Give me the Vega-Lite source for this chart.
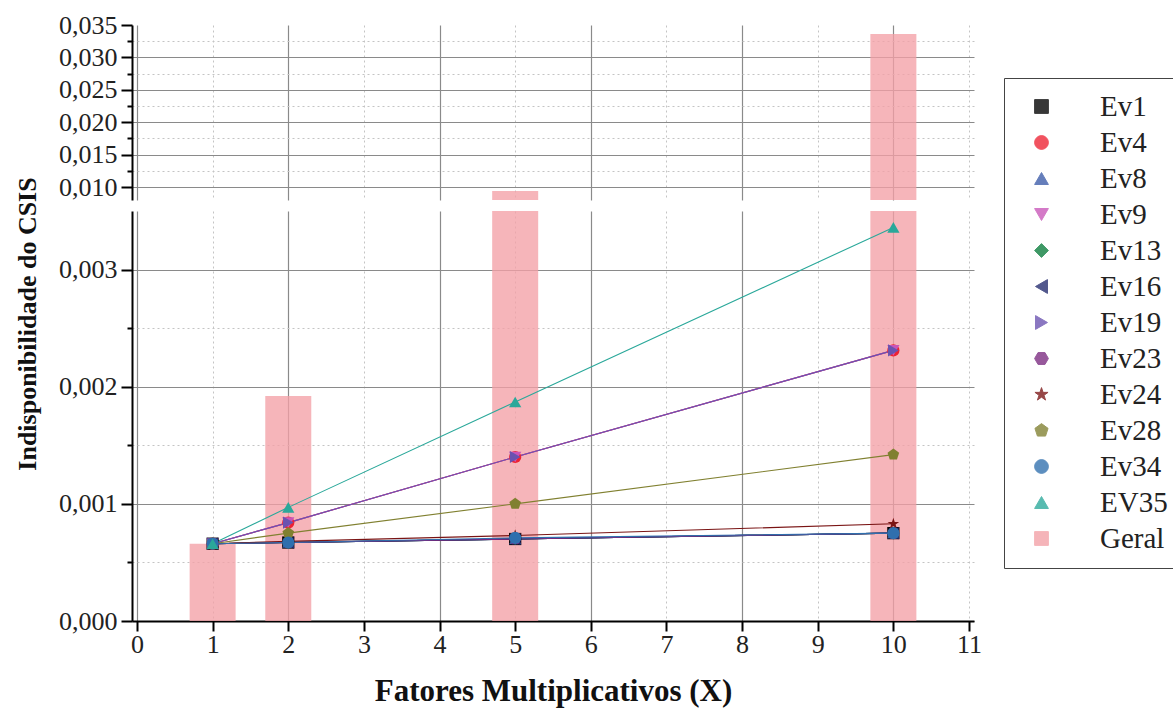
{
  "$schema": "https://vega.github.io/schema/vega-lite/v6.json",
  "padding": {"left": 14, "top": 12, "right": 0, "bottom": 5},
  "background": "white",
  "title": {"text": "Indisponibilidade do CSIS", "orient": "left", "anchor": "middle", "font": "Liberation Serif", "fontSize": 26, "fontWeight": "bold", "color": "#111111", "offset": 18, "dx": 35},
  "config": {
    "view": {"stroke": null},
    "font": "Liberation Serif",
    "style": {
      "guide-label": {"font": "Liberation Serif", "fontSize": 26, "fill": "#222222"},
      "guide-title": {"font": "Liberation Serif", "fontSize": 31, "fontWeight": "bold", "fill": "#111111"}
    },
    "axis": {"labelFont": "Liberation Serif", "labelFontSize": 26, "labelColor": "#222222", "titleFont": "Liberation Serif", "titleFontSize": 31, "titleFontWeight": "bold", "titleColor": "#111111", "domainColor": "#000000", "domainWidth": 2, "tickColor": "#000000", "tickWidth": 2},
    "legend": {"labelFont": "Liberation Serif", "labelFontSize": 29, "labelColor": "#222222"}
  },
  "datasets": {
    "series": [
      {"serie": "Ev1", "x": 1, "y": 0.00066}, {"serie": "Ev1", "x": 2, "y": 0.00067}, {"serie": "Ev1", "x": 5, "y": 0.0007}, {"serie": "Ev1", "x": 10, "y": 0.00075},
      {"serie": "Ev4", "x": 1, "y": 0.00066}, {"serie": "Ev4", "x": 2, "y": 0.00084}, {"serie": "Ev4", "x": 5, "y": 0.0014}, {"serie": "Ev4", "x": 10, "y": 0.00231},
      {"serie": "Ev8", "x": 1, "y": 0.00066}, {"serie": "Ev8", "x": 2, "y": 0.00067}, {"serie": "Ev8", "x": 5, "y": 0.0007}, {"serie": "Ev8", "x": 10, "y": 0.00075},
      {"serie": "Ev9", "x": 1, "y": 0.00066}, {"serie": "Ev9", "x": 2, "y": 0.00084}, {"serie": "Ev9", "x": 5, "y": 0.0014}, {"serie": "Ev9", "x": 10, "y": 0.00231},
      {"serie": "Ev13", "x": 1, "y": 0.00066}, {"serie": "Ev13", "x": 2, "y": 0.00067}, {"serie": "Ev13", "x": 5, "y": 0.0007}, {"serie": "Ev13", "x": 10, "y": 0.00075},
      {"serie": "Ev16", "x": 1, "y": 0.00066}, {"serie": "Ev16", "x": 2, "y": 0.00067}, {"serie": "Ev16", "x": 5, "y": 0.0007}, {"serie": "Ev16", "x": 10, "y": 0.00075},
      {"serie": "Ev19", "x": 1, "y": 0.00066}, {"serie": "Ev19", "x": 2, "y": 0.00084}, {"serie": "Ev19", "x": 5, "y": 0.0014}, {"serie": "Ev19", "x": 10, "y": 0.00231},
      {"serie": "Ev23", "x": 1, "y": 0.00066}, {"serie": "Ev23", "x": 2, "y": 0.00067}, {"serie": "Ev23", "x": 5, "y": 0.0007}, {"serie": "Ev23", "x": 10, "y": 0.00075},
      {"serie": "Ev24", "x": 1, "y": 0.00066}, {"serie": "Ev24", "x": 2, "y": 0.00068}, {"serie": "Ev24", "x": 5, "y": 0.00073}, {"serie": "Ev24", "x": 10, "y": 0.00083},
      {"serie": "Ev28", "x": 1, "y": 0.00066}, {"serie": "Ev28", "x": 2, "y": 0.00075}, {"serie": "Ev28", "x": 5, "y": 0.001}, {"serie": "Ev28", "x": 10, "y": 0.00142},
      {"serie": "Ev34", "x": 1, "y": 0.00066}, {"serie": "Ev34", "x": 2, "y": 0.00067}, {"serie": "Ev34", "x": 5, "y": 0.00071}, {"serie": "Ev34", "x": 10, "y": 0.00075},
      {"serie": "EV35", "x": 1, "y": 0.00066}, {"serie": "EV35", "x": 2, "y": 0.00097}, {"serie": "EV35", "x": 5, "y": 0.00187}, {"serie": "EV35", "x": 10, "y": 0.00336}
    ],
    "bars": [
      {"serie": "Geral", "x": 1, "y": 0.00066},
      {"serie": "Geral", "x": 2, "y": 0.00192},
      {"serie": "Geral", "x": 5, "y": 0.0094},
      {"serie": "Geral", "x": 10, "y": 0.0336}
    ]
  },
  "spacing": 10,
  "resolve": {"scale": {"y": "independent"}},
  "vconcat": [
    {
      "width": 842,
      "height": 175,
      "data": {"name": "bars"},
      "mark": {"type": "bar", "size": 46, "clip": true, "opacity": 0.78},
      "encoding": {
        "x": {"field": "x", "type": "quantitative", "scale": {"domain": [0, 11], "nice": false},
          "axis": {"values": [0,1,2,3,4,5,6,7,8,9,10,11], "labels": false, "ticks": false, "domain": false, "title": null, "grid": true,
            "gridColor": {"condition": {"test": "datum.value % 2 == 0", "value": "#8a8a8a"}, "value": "#c4c4c4"},
            "gridDash": {"condition": {"test": "datum.value % 2 == 0", "value": []}, "value": [2, 3]},
            "gridWidth": {"condition": {"test": "datum.value % 2 == 0", "value": 1.2}, "value": 1}}},
        "y": {"field": "y", "type": "quantitative", "scale": {"domain": [0.008, 0.035], "nice": false, "zero": false},
          "axis": {"values": [0.01,0.0125,0.015,0.0175,0.02,0.0225,0.025,0.0275,0.03,0.0325,0.035], "title": null, "grid": true,
            "labelFont": "Liberation Serif", "labelFontSize": 26,
            "labelExpr": "round(datum.value*10000) % 50 == 0 ? replace(format(datum.value, '.3f'), '.', ',') : ''",
            "labelPadding": 4,
            "tickSize": {"condition": {"test": "round(datum.value*10000) % 50 == 0", "value": 11}, "value": 5},
            "gridColor": {"condition": {"test": "round(datum.value*10000) % 50 == 0", "value": "#8a8a8a"}, "value": "#c4c4c4"},
            "gridDash": {"condition": {"test": "round(datum.value*10000) % 50 == 0", "value": []}, "value": [2, 3]},
            "gridOpacity": {"condition": {"test": "datum.value > 0.0349", "value": 0}, "value": 1}}},
        "color": {"field": "serie", "type": "nominal",
          "scale": {"domain": ["Ev1","Ev4","Ev8","Ev9","Ev13","Ev16","Ev19","Ev23","Ev24","Ev28","Ev34","EV35","Geral"],
            "range": ["#000000","#ee2233","#3a5aa8","#c855b8","#0a7d3c","#222a6e","#6a52b0","#7a2a80","#7a1414","#808030","#2f6fae","#2aa89a","#f3a0a6"]},
          "legend": {"orient": "none", "legendX": 872, "legendY": 53, "title": null, "labelFont": "Liberation Serif", "labelFontSize": 29, "labelColor": "#222222", "symbolSize": 190, "rowPadding": 6, "padding": 14, "symbolOffset": 9, "labelOffset": 44, "strokeColor": "#444444", "fillColor": "white", "symbolStrokeWidth": 1}}
      }
    },
    {
      "width": 842,
      "height": 410,
      "encoding": {
        "x": {"field": "x", "type": "quantitative", "scale": {"domain": [0, 11], "nice": false},
          "axis": {"values": [0,1,2,3,4,5,6,7,8,9,10,11], "title": "Fatores Multiplicativos (X)", "titlePadding": 19, "tickSize": 10, "labelPadding": 0, "grid": true,
            "labelFont": "Liberation Serif", "labelFontSize": 26,
            "gridColor": {"condition": {"test": "datum.value % 2 == 0", "value": "#8a8a8a"}, "value": "#c4c4c4"},
            "gridDash": {"condition": {"test": "datum.value % 2 == 0", "value": []}, "value": [2, 3]},
            "gridWidth": {"condition": {"test": "datum.value % 2 == 0", "value": 1.2}, "value": 1}}},
        "y": {"field": "y", "type": "quantitative", "scale": {"domain": [0, 0.0035], "nice": false},
          "axis": {"values": [0,0.0005,0.001,0.0015,0.002,0.0025,0.003], "title": null, "grid": true,
            "labelFont": "Liberation Serif", "labelFontSize": 26,
            "labelExpr": "round(datum.value*10000) % 10 == 0 ? replace(format(datum.value, '.3f'), '.', ',') : ''",
            "labelPadding": 4,
            "tickSize": {"condition": {"test": "round(datum.value*10000) % 10 == 0", "value": 11}, "value": 5},
            "gridColor": {"condition": {"test": "round(datum.value*10000) % 10 == 0", "value": "#8a8a8a"}, "value": "#c4c4c4"},
            "gridDash": {"condition": {"test": "round(datum.value*10000) % 10 == 0", "value": []}, "value": [2, 3]}}},
        "color": {"field": "serie", "type": "nominal"}
      },
      "layer": [
        {"data": {"name": "bars"}, "mark": {"type": "bar", "size": 46, "clip": true, "opacity": 0.78}},
        {"data": {"name": "series"}, "mark": {"type": "line", "strokeWidth": 1.1}},
        {"data": {"name": "series"}, "mark": {"type": "point", "filled": true, "size": 150, "opacity": 1},
          "encoding": {"shape": {"field": "serie", "type": "nominal",
            "scale": {"domain": ["Ev1","Ev4","Ev8","Ev9","Ev13","Ev16","Ev19","Ev23","Ev24","Ev28","Ev34","EV35","Geral"],
              "range": ["square","circle","triangle-up","triangle-down","diamond","triangle-left","triangle-right",
                "M-1,0L-0.5,-0.866L0.5,-0.866L1,0L0.5,0.866L-0.5,0.866Z",
                "M0,-1L0.2245,-0.309L0.951,-0.309L0.363,0.118L0.588,0.809L0,0.382L-0.588,0.809L-0.363,0.118L-0.951,-0.309L-0.2245,-0.309Z",
                "M0,-1L0.951,-0.309L0.588,0.809L-0.588,0.809L-0.951,-0.309Z",
                "circle","triangle-up","square"]}}}}
      ]
    }
  ]
}
